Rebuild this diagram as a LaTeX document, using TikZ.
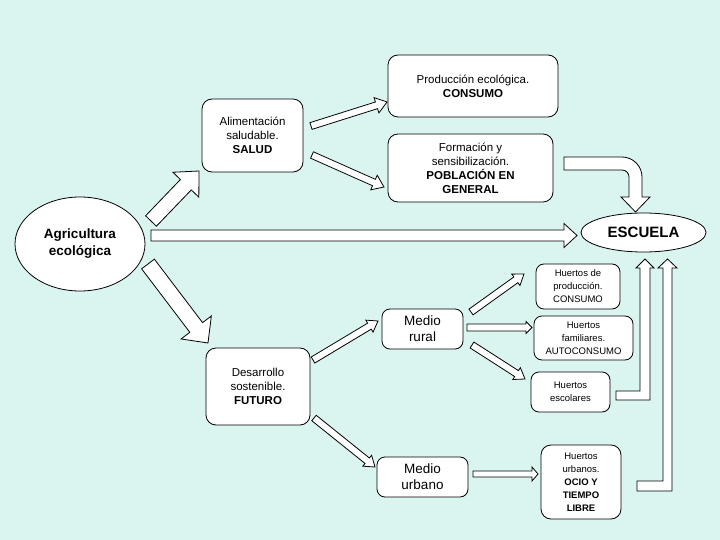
\documentclass[tikz,border=0pt]{standalone}
\usepackage{fontspec}
\setmainfont{Liberation Sans}
\usetikzlibrary{calc,shapes.geometric}
\definecolor{bgc}{RGB}{218,244,240}
\tikzset{
  box/.style={draw=black, line width=0.8pt, fill=white, rounded corners=10pt, align=center, inner sep=0pt},
  sbox/.style={box, rounded corners=8pt, font=\fontsize{9.5}{13}\selectfont},
  oval/.style={draw=black, line width=0.8pt, fill=white, ellipse, inner sep=0pt, align=center},
  blk/.style={draw=black, line width=0.8pt, fill=white, line join=miter}
}
\newcommand{\barrow}[5]{%
  \coordinate (ba-s) at #1; \coordinate (ba-e) at #2;
  \coordinate (ba-h) at ($(ba-e)!#5!(ba-s)$);
  \draw[blk] ($(ba-s)!#3!90:(ba-e)$) -- ($(ba-h)!#3!-90:(ba-s)$) -- ($(ba-h)!#4!-90:(ba-s)$) -- (ba-e) -- ($(ba-h)!#4!90:(ba-s)$) -- ($(ba-h)!#3!90:(ba-s)$) -- ($(ba-s)!#3!-90:(ba-e)$) -- cycle;}
\begin{document}
\begin{tikzpicture}[x=1pt,y=-1pt]
\fill[bgc] (0,0) rectangle (720,540);
\useasboundingbox (0,0) rectangle (720,540);
\begin{scope}[font=\fontsize{11.5}{14}\selectfont]
\node[box, minimum width=170pt, minimum height=62pt] (prod) at (473,86) {Producción ecológica.\\\textbf{CONSUMO}};
\node[box, minimum width=165pt, minimum height=68pt] (form) at (470.5,168) {Formación y\\sensibilización.\\\textbf{POBLACIÓN EN}\\\textbf{GENERAL}};
\node[box, minimum width=101pt, minimum height=73pt] (alim) at (252.5,135.5) {Alimentación\\saludable.\\\textbf{SALUD}};
\node[box, minimum width=104pt, minimum height=77pt] (desa) at (258,386.5) {Desarrollo\\sostenible.\\\textbf{FUTURO}};
\end{scope}
\node[oval, minimum width=130pt, minimum height=94pt, font=\fontsize{13.5}{17}\selectfont\bfseries] (agri) at (80,244) {Agricultura\\ecológica};
\node[oval, minimum width=125pt, minimum height=39pt, font=\fontsize{15}{17}\selectfont\bfseries] (esc) at (643.5,232.5) {ESCUELA};
\node[box, rounded corners=8pt, minimum width=81pt, minimum height=40pt, font=\fontsize{13.5}{16}\selectfont] (mrur) at (422.5,329) {Medio\\rural};
\node[box, rounded corners=8pt, minimum width=91pt, minimum height=40pt, font=\fontsize{13.5}{16}\selectfont] (murb) at (422.5,477) {Medio\\urbano};
\node[sbox, minimum width=84pt, minimum height=45pt] (hprod) at (578,286.5) {Huertos de\\producción.\\CONSUMO};
\node[sbox, minimum width=99pt, minimum height=44pt] (hfam) at (583.5,338) {Huertos\\familiares.\\AUTOCONSUMO};
\node[sbox, minimum width=79pt, minimum height=40pt] (hesc) at (570.5,392) {Huertos\\escolares};
\node[sbox, rounded corners=10pt, minimum width=80pt, minimum height=74pt] (hurb) at (581,482) {Huertos\\urbanos.\\\textbf{OCIO Y}\\\textbf{TIEMPO}\\\textbf{LIBRE}};
% connector end points
\coordinate (a1s) at (311,126); \coordinate (a1e) at (387,102);
\coordinate (a2s) at (312,155); \coordinate (a2e) at (384,187);
\coordinate (a3s) at (151,221); \coordinate (a3e) at (199,171);
\coordinate (a4s) at (148,264); \coordinate (a4e) at (208,343);
\coordinate (a5s) at (151,235.5); \coordinate (a5e) at (577,235.5);
\coordinate (a9s) at (313,360); \coordinate (a9e) at (378,321);
\coordinate (a10s) at (314,418); \coordinate (a10e) at (375,467);
\coordinate (a11s) at (471,312); \coordinate (a11e) at (524,274);
\coordinate (a12s) at (467,327.5); \coordinate (a12e) at (532,327.5);
\coordinate (a13s) at (472,345); \coordinate (a13e) at (525,379);
\coordinate (a14s) at (473,474); \coordinate (a14e) at (538,474);
\barrow{(a1s)}{(a1e)}{3.5pt}{8pt}{11pt}
\barrow{(a2s)}{(a2e)}{3.5pt}{8pt}{11pt}
\barrow{(a3s)}{(a3e)}{7.5pt}{18pt}{19pt}
\barrow{(a4s)}{(a4e)}{8pt}{19pt}{19.5pt}
\barrow{(a5s)}{(a5e)}{5.5pt}{12pt}{13pt}
\barrow{(a9s)}{(a9e)}{3.5pt}{7pt}{10pt}
\barrow{(a10s)}{(a10e)}{3.5pt}{7pt}{10pt}
\barrow{(a11s)}{(a11e)}{3.5pt}{7pt}{10pt}
\barrow{(a12s)}{(a12e)}{3.5pt}{6pt}{6pt}
\barrow{(a13s)}{(a13e)}{3.5pt}{7pt}{10pt}
\barrow{(a14s)}{(a14e)}{3pt}{7pt}{6pt}
% bent arrow Formacion -> ESCUELA
\draw[blk] (564,157) -- (622,157) .. controls (633,157) and (642,166) .. (642,177) -- (642,197) -- (650,197) -- (635.5,212) -- (621,197) -- (629,197) -- (629,177) .. controls (629,173.1) and (625.9,170) .. (622,170) -- (564,170) -- cycle;
% bent arrows from Huertos escolares and Huertos urbanos -> ESCUELA
\draw[blk] (616,391) -- (640,391) -- (640,268) -- (636,268) -- (645,259) -- (654,268) -- (650,268) -- (650,400) -- (616,400) -- cycle;
\draw[blk] (637,481) -- (663,481) -- (663,268) -- (658,268) -- (667.5,259) -- (677,268) -- (672,268) -- (672,491) -- (637,491) -- cycle;
\end{tikzpicture}
\end{document}
